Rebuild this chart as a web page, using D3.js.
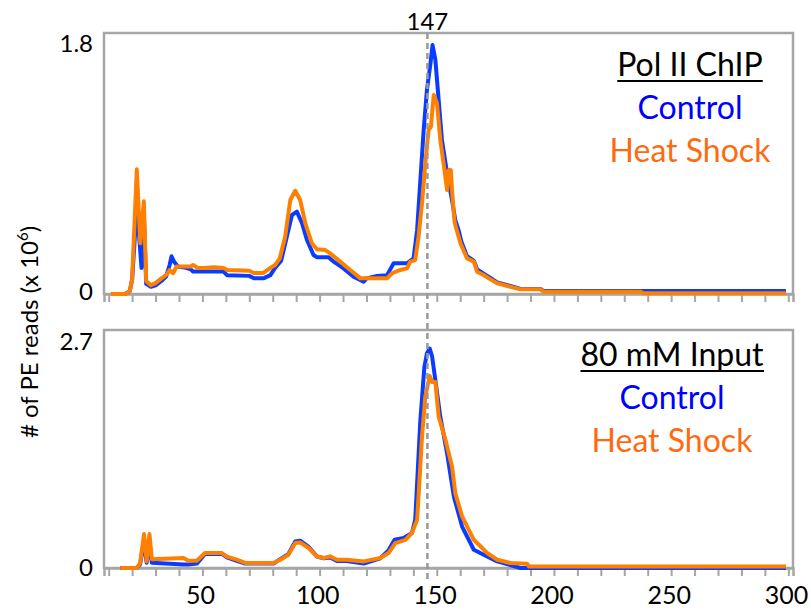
<!DOCTYPE html>
<html><head><meta charset="utf-8">
<script src="https://cdn.jsdelivr.net/npm/d3@7/dist/d3.min.js"></script>
<style>
html,body{margin:0;padding:0;background:#fff;}
text{font-family:Lato,"Open Sans",sans-serif;}
</style></head>
<body>
<svg id="chart" width="811" height="611"></svg>
<script>
// ---------- data (fragment length, reads x 10^6) ----------
const xTickValues = d3.range(11, 302, 10);
const xLabelValues = [50, 100, 150, 200, 250, 300];
const markerValue = 147;
const topMax = 1.8;
const bottomMax = 2.7;

const topControl = [[12,0],[18,0],[20,0.02],[21,0.1],[23,0.6],[24,0.4],[25,0.18],[26,0.55],[27,0.07],[29,0.05],[31,0.06],[33.5,0.09],[35.5,0.12],[37,0.2],[37.8,0.26],[39,0.22],[40.5,0.19],[44,0.18],[46,0.17],[47,0.155],[56,0.155],[60,0.155],[61.5,0.13],[71,0.125],[73,0.108],[77,0.108],[80,0.13],[82,0.18],[84.6,0.23],[87,0.395],[89.2,0.545],[91.3,0.568],[93.5,0.488],[95.6,0.372],[98.4,0.269],[99.9,0.253],[104.8,0.253],[107,0.223],[111.2,0.177],[115.5,0.12],[119.8,0.085],[121,0.108],[125.5,0.124],[129.8,0.13],[132.6,0.212],[138.3,0.212],[141.1,0.246],[142.6,0.44],[145.4,1.13],[146.8,1.407],[148.3,1.59],[149.2,1.717],[150.4,1.614],[151.8,1.338],[153.2,1.062],[155.4,0.832],[157.5,0.648],[158.9,0.51],[160.3,0.44],[161.5,0.36],[163.9,0.26],[166.8,0.23],[168.2,0.17],[171,0.14],[173.9,0.11],[176.8,0.08],[182.4,0.055],[186.7,0.035],[195.2,0.035],[196.7,0.02],[300,0.02]];

const topHeatShock = [[12,0],[18,0],[20,0.02],[21,0.1],[23,0.86],[24.5,0.35],[26,0.64],[27,0.09],[29,0.06],[31,0.075],[33.5,0.108],[35.5,0.13],[37,0.165],[38.5,0.143],[40,0.19],[44,0.19],[46,0.19],[47,0.2],[49,0.18],[52,0.18],[56,0.185],[60,0.18],[61.5,0.165],[71,0.16],[73,0.145],[77,0.145],[80,0.18],[82,0.2],[84,0.246],[86.3,0.395],[88.5,0.648],[90.6,0.712],[92.7,0.648],[94.9,0.488],[97.7,0.35],[99.9,0.308],[103.4,0.303],[105.5,0.28],[109.8,0.223],[114.1,0.166],[118.4,0.108],[129.8,0.108],[131.9,0.143],[135.4,0.166],[138.3,0.177],[139.7,0.223],[141.8,0.234],[143.2,0.395],[144.7,0.625],[146.1,0.9],[147.5,1.13],[148.5,1.154],[149.7,1.372],[151.1,1.315],[152.5,1.062],[153.9,0.9],[155.4,0.717],[156.1,0.855],[157,0.855],[157.5,0.717],[158.5,0.51],[159,0.47],[161.1,0.35],[163.9,0.246],[166.8,0.223],[168.2,0.154],[171,0.131],[173.9,0.101],[176.8,0.074],[182.4,0.05],[186.7,0.032],[195.2,0.032],[196.7,0.016],[238,0.016],[239,0.005],[300,0.005]];

const bottomControl = [[16,0],[23,0],[24.4,0.04],[26,0.3],[27.2,0.06],[28.4,0.3],[29.4,0.06],[42.9,0.04],[45,0.04],[48.6,0.05],[52.1,0.16],[59.3,0.16],[61.4,0.12],[65.7,0.08],[69.2,0.05],[81.3,0.05],[84.2,0.1],[87.7,0.16],[90.6,0.3],[92.7,0.31],[96.3,0.24],[99.9,0.13],[102.7,0.11],[105.5,0.12],[108.4,0.08],[112.6,0.08],[119.8,0.05],[126.9,0.11],[130.4,0.2],[133,0.32],[136.9,0.34],[140.4,0.397],[141.8,0.547],[144,1.68],[145.7,2.28],[146.8,2.436],[148,2.49],[149,2.4],[150.4,2.13],[152.5,1.717],[155.4,1.3],[158.3,0.81],[161.8,0.47],[166.8,0.207],[172.5,0.13],[176.8,0.075],[181.7,0.04],[186.7,0],[300,0]];

const bottomHeatShock = [[16,0],[23,0],[24.4,0.057],[26.1,0.385],[27.2,0.075],[28.4,0.385],[29.4,0.1],[42.9,0.113],[45,0.083],[48.6,0.083],[52.1,0.17],[59.3,0.17],[61.4,0.13],[65.7,0.094],[69.2,0.057],[81.3,0.057],[84.2,0.094],[87.7,0.151],[90.6,0.283],[92.7,0.29],[96.3,0.227],[99.9,0.13],[102.7,0.113],[105.5,0.132],[108.4,0.094],[112.6,0.094],[119.8,0.075],[126.9,0.113],[130.4,0.17],[133.3,0.283],[137.6,0.32],[140.4,0.397],[142.6,0.547],[143.3,0.85],[144.7,1.49],[146.1,1.944],[148,2.18],[149,2.11],[150.4,2.11],[151.8,1.717],[154.7,1.454],[157.5,1.151],[158.9,0.85],[161.8,0.585],[166.8,0.32],[172.5,0.17],[176.8,0.094],[182.4,0.057],[189.6,0.049],[190.3,0.018],[300,0.018]];

const topTitle = "Pol II ChIP";
const bottomTitle = "80 mM Input";
const seriesNames = ["Control", "Heat Shock"];
const yAxisTitle = "# of PE reads (x 10";

// ---------- drawing ----------
const svg = d3.select("#chart");
const blue = "#0a3cff", orange = "#ff8000";
const axisGray = "#a6a6a6";
const left = 104, right = 793;
const x = d3.scaleLinear().domain([9, 303]).range([left, right]);

const panels = [
  {top: 33, bottom: 294, max: topMax, ctrl: topControl, hs: topHeatShock, title: topTitle,
   legendX: 690, legendY: 76, maxDy: 10, zeroDy: -3},
  {top: 330, bottom: 568, max: bottomMax, ctrl: bottomControl, hs: bottomHeatShock, title: bottomTitle,
   legendX: 672, legendY: 366, maxDy: 11, zeroDy: -1}
];

panels.forEach((p, i) => {
  const y = d3.scaleLinear().domain([0, p.max]).range([p.bottom, p.top]);
  const g = svg.append("g");
  g.append("rect").attr("x", left).attr("y", p.top).attr("width", right - left).attr("height", p.bottom - p.top)
    .attr("fill", "none").attr("stroke", axisGray).attr("stroke-width", 2.5);
  const ax = g.append("g").attr("transform", `translate(0,${p.bottom})`)
    .call(d3.axisBottom(x).tickValues(xTickValues).tickSize(8).tickFormat(""));
  ax.select(".domain").attr("stroke", axisGray).attr("stroke-width", 2.5);
  ax.selectAll(".tick line").attr("stroke", axisGray).attr("stroke-width", 2);
  const ay = g.append("g").attr("transform", `translate(${left},0)`)
    .call(d3.axisLeft(y).tickValues([0, p.max]).tickSize(0).tickPadding(11).tickFormat(d => d === 0 ? "0" : d3.format(".1f")(d)));
  ay.select(".domain").remove();
  ay.selectAll(".tick text").attr("font-size", 24).attr("fill", "#000")
    .attr("font-family", "Lato, sans-serif")
    .attr("dy", d => (d === 0 ? p.zeroDy : p.maxDy) + 8 + "px");
  const line = d3.line().x(d => x(d[0])).y(d => y(d[1]));
  g.append("path").datum(p.ctrl).attr("d", line).attr("fill", "none").attr("stroke", blue)
    .attr("stroke-width", 4).attr("stroke-linejoin", "round");
  g.append("path").datum(p.hs).attr("d", line).attr("fill", "none").attr("stroke", orange)
    .attr("stroke-width", 4).attr("stroke-linejoin", "round");
  const t = g.append("text").attr("x", p.legendX).attr("y", p.legendY).attr("text-anchor", "middle")
    .attr("font-size", 32).attr("fill", "#000").text(p.title);
  const bb = t.node().getBBox();
  g.append("line").attr("x1", bb.x).attr("x2", bb.x + bb.width).attr("y1", p.legendY + 5).attr("y2", p.legendY + 5)
    .attr("stroke", "#000").attr("stroke-width", 2);
  g.append("text").attr("x", p.legendX).attr("y", p.legendY + 43).attr("text-anchor", "middle")
    .attr("font-size", 32).attr("fill", "#0000ff").text(seriesNames[0]);
  g.append("text").attr("x", p.legendX).attr("y", p.legendY + 86).attr("text-anchor", "middle")
    .attr("font-size", 32).attr("fill", "#ff6a10").text(seriesNames[1]);
});

const axl = svg.append("g").attr("transform", `translate(0,${panels[1].bottom})`)
  .call(d3.axisBottom(x).tickValues(xLabelValues).tickSize(0).tickPadding(18));
axl.select(".domain").remove();
axl.selectAll(".tick text").attr("font-size", 25).attr("fill", "#000").attr("font-family", "Lato, sans-serif");

svg.append("line").attr("x1", x(markerValue)).attr("x2", x(markerValue))
  .attr("y1", panels[0].top).attr("y2", 582)
  .attr("stroke", "#999").attr("stroke-width", 2.5).attr("stroke-dasharray", "6,4");
svg.append("text").attr("x", x(markerValue)).attr("y", 30).attr("text-anchor", "middle")
  .attr("font-size", 24).attr("fill", "#000").text(String(markerValue));

const yt = svg.append("text").attr("transform", "translate(38,332) rotate(-90)")
  .attr("text-anchor", "middle").attr("font-size", 24).attr("fill", "#000");
yt.append("tspan").text(yAxisTitle);
yt.append("tspan").attr("font-size", 15).attr("dy", -10).text("6");
yt.append("tspan").attr("dy", 10).text(")");
</script>
</body></html>
